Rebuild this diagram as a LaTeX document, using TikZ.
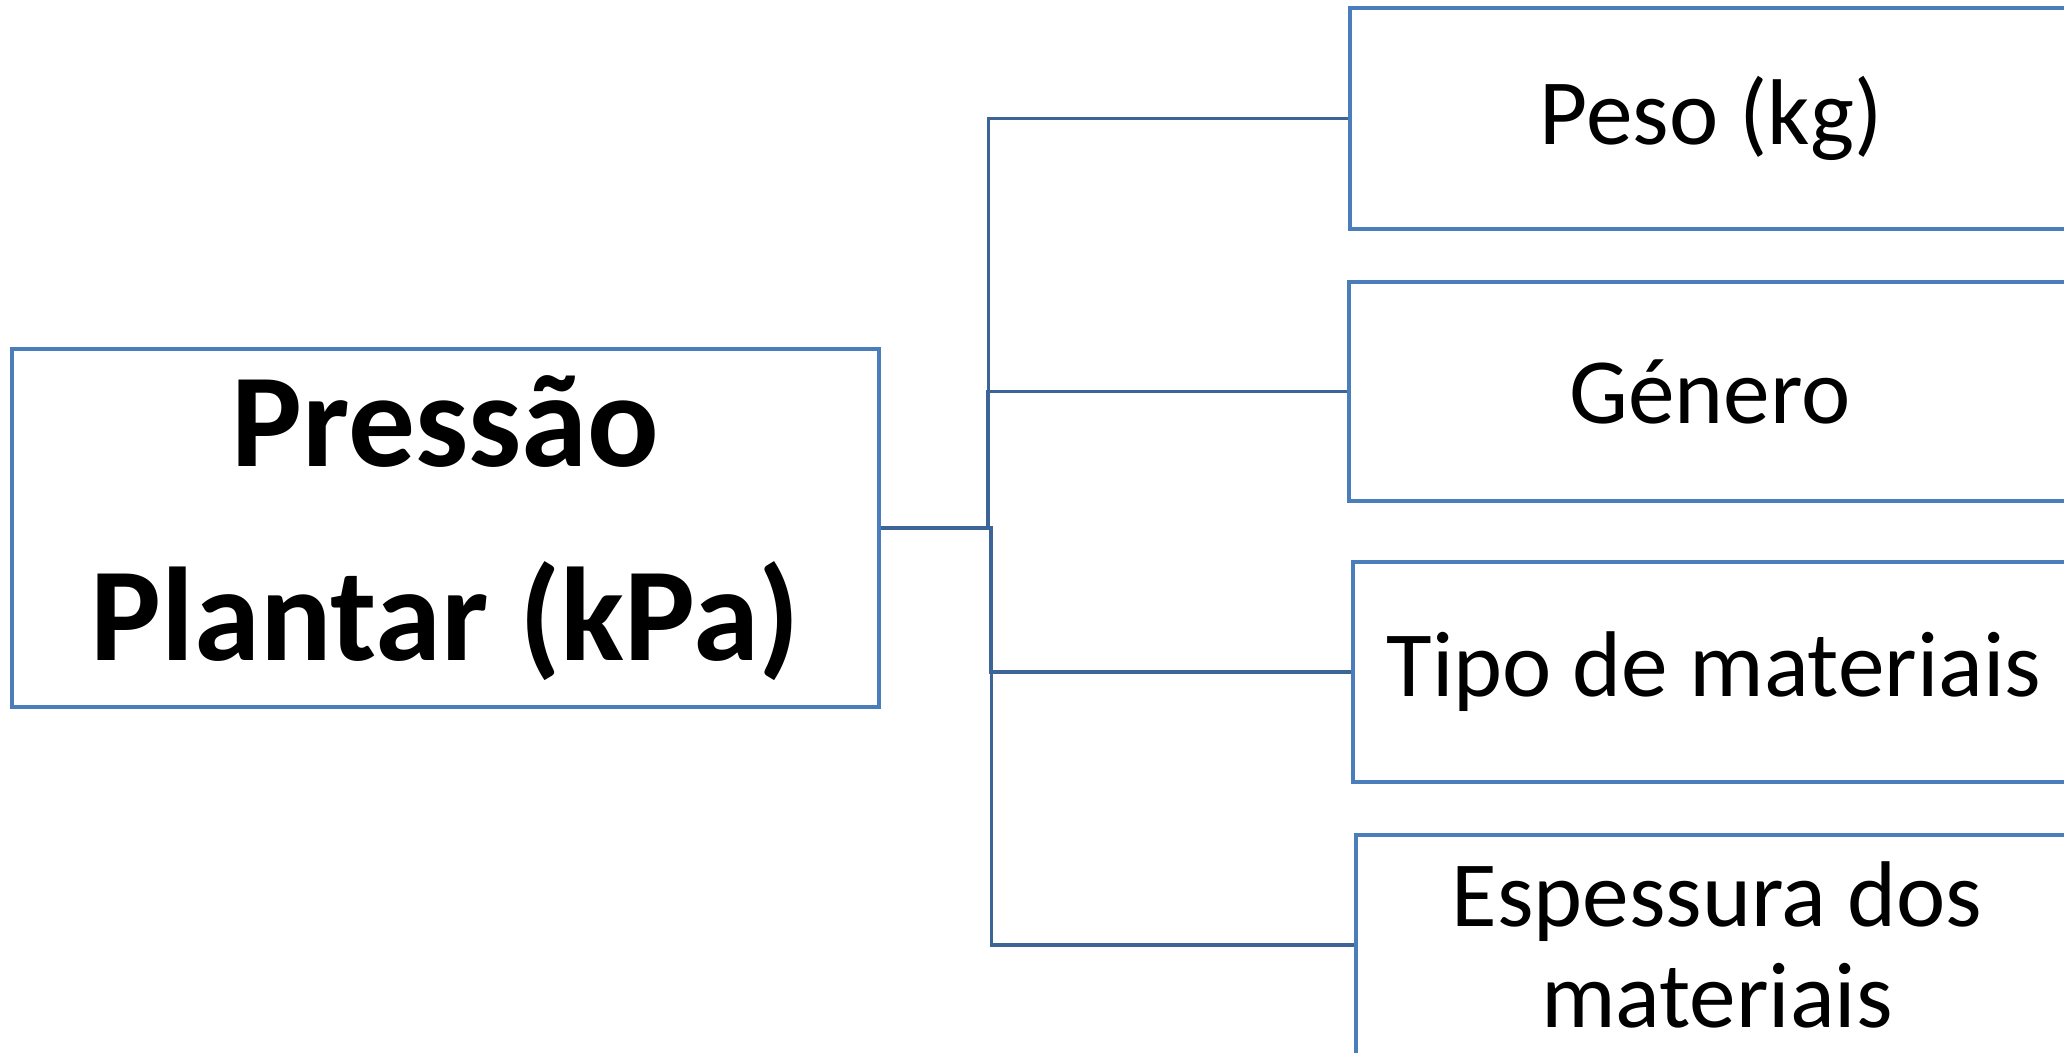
\documentclass[tikz,border=0pt]{standalone}
\usepackage{fontspec}
\setmainfont{Carlito}
\definecolor{boxblue}{HTML}{4A7EBB}
\definecolor{linkblue}{HTML}{3D6497}
\tikzset{
  mainbox/.style={draw=boxblue, line width=2.6pt, rectangle, minimum width=867*0.75pt, minimum height=358*0.75pt, inner sep=0pt, align=center, font=\fontsize{100}{146}\selectfont\bfseries},
  leafbox/.style={draw=boxblue, line width=2.6pt, rectangle, minimum width=722*0.75pt, minimum height=220*0.75pt, inner sep=0pt, align=center, font=\fontsize{70}{76}\selectfont},
  link/.style={draw=linkblue, line width=2.6pt}
}
\begin{document}
\begin{tikzpicture}[x=0.75pt, y=-0.75pt]
\useasboundingbox (0,0) rectangle (2064,1053);
\clip (0,0) rectangle (2064,1053);
\node[mainbox] (main) at (445.5,528) {Pressão\\Plantar (kPa)};
\node[leafbox, minimum height=221*0.75pt] (b1) at (1711,118.5) {Peso (kg)};
\node[leafbox, minimum height=219*0.75pt] (b2) at (1710,391.5) {Género};
\node[leafbox] (b3) at (1714,672) {Tipo de materiais};
\node[leafbox] (b4) at (1717,945) {Espessura dos\\materiais};
\draw[link] (main.east) -- ++(108,0) |- (b1.west);
\draw[link] (main.east) -- ++(107,0) |- (b2.west);
\draw[link] (main.east) -- ++(110,0) |- (b3.west);
\draw[link] (main.east) -- ++(111,0) |- (b4.west);
\end{tikzpicture}
\end{document}
